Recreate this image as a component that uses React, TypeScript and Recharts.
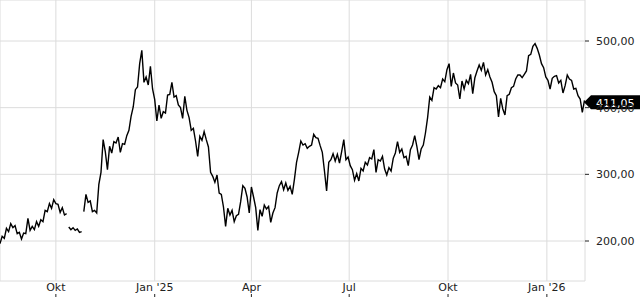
import { LineChart, Line, XAxis, YAxis, CartesianGrid, ReferenceLine } from "recharts"

const DAY = 86400000
const firstDay = Date.UTC(2024, 7, 10)
const stepDays = 2
const lastDay = 544.5

// price readings every 2 days, three pieces that are not joined
const segA = [
  196, 207, 204, 219, 214, 226, 220, 223, 211, 213,
  203, 212, 211, 234, 216, 222, 217, 229, 222, 232,
  229, 246, 244, 256, 249, 262, 256, 255, 243, 250,
  239, 241,
]
const segB = [221, 217, 220, 216, 218, 213, 214]
const segC = [
  244, 270, 258, 260, 244, 246, 242, 285, 303, 352,
  334, 307, 342, 332, 349, 347, 356, 333, 346, 345,
  358, 366, 387, 401, 427, 431, 466, 486, 438, 446,
  434, 462, 428, 412, 380, 404, 384, 394, 392, 419,
  420, 438, 416, 418, 404, 400, 384, 417, 396, 385,
  366, 369, 350, 327, 357, 351, 364, 352, 341, 303,
  297, 288, 299, 272, 270, 251, 222, 249, 239, 246,
  229, 238, 240, 259, 283, 279, 266, 242, 281, 266,
  250, 216, 247, 237, 254, 248, 252, 228, 242, 250,
  272, 283, 289, 277, 287, 276, 282, 270, 292, 318,
  333, 350, 344, 346, 339, 342, 344, 360, 355, 354,
  343, 333, 305, 275, 318, 322, 331, 320, 330, 317,
  334, 352, 322, 326, 313, 307, 291, 301, 290, 309,
  305, 318, 314, 325, 323, 337, 303, 322, 320, 327,
  308, 299, 310, 305, 324, 332, 349, 333, 338, 325,
  327, 313, 337, 344, 358, 342, 322, 338, 344, 362,
  385, 416, 411, 430, 428, 433, 430, 443, 439, 457,
  466, 432, 452, 437, 434, 413, 440, 428, 441, 436,
  450, 421, 445, 455, 464, 456, 468, 449, 457, 446,
  438, 424, 418, 386, 414, 398, 389, 418, 420, 430,
  432, 443, 449, 449, 445, 450, 455, 478, 480, 492,
  496, 489, 479, 466, 460, 446, 441, 428, 444, 447,
  448, 437, 441, 422, 433, 449, 443, 441, 428, 429,
  418, 413, 393, 411.05,
]
const segStarts = [0, 32, 39]

const xTickDates = ["2024-10-01", "2025-01-01", "2025-04-01", "2025-07-01", "2025-10-01", "2026-01-01"]
const xTickLabels = ["Okt", "Jan '25", "Apr", "Jul", "Okt", "Jan '26"]
const yTicks = [200, 300, 400, 500]
const lastPrice = 411.05

const FONT = "DejaVu Sans"

const toRows = (seg: number[], start: number) =>
  seg.map((v, i) => ({ t: firstDay + (start + i) * stepDays * DAY, v }))

const pieces = [segA, segB, segC].map((s, i) => toRows(s, segStarts[i]))
const xTicks = xTickDates.map((d) => Date.parse(d + "T00:00:00Z"))

const fmt = (v: number) => v.toFixed(2).replace(".", ",")

function XTick({ x, y, payload }: any) {
  const label = xTickLabels[xTicks.indexOf(payload.value)]
  return (
    <g>
      <text x={x} y={y + 10} textAnchor="middle" fontSize={11} fontFamily={FONT} fill="#222">
        {label}
      </text>
      <line x1={x} x2={x} y1={y + 13} y2={y + 16} stroke="#222" />
    </g>
  )
}

function YTick({ x, y, payload }: any) {
  return (
    <g>
      <line x1={x} x2={x + 4} y1={y} y2={y} stroke="#222" />
      <text x={x + 11} y={y + 4} fontSize={11} fontFamily={FONT} fill="#222">
        {fmt(payload.value)}
      </text>
    </g>
  )
}

// black price tag with an arrow, drawn over the 400,00 label like the original
function PriceTag(props: any) {
  const { x, y, width } = props.viewBox
  const r = x + width
  return (
    <g>
      <polygon
        points={`${r - 1},${y + 2} ${r + 6},${y - 5} 640,${y - 5} 640,${y + 9} ${r + 6},${y + 9}`}
        fill="#000"
      />
      <text x={r + 11} y={y + 6.5} fontSize={11} fontFamily={FONT} fill="#fff">
        {fmt(lastPrice)}
      </text>
    </g>
  )
}

export default function App() {
  return (
    <div style={{ width: 640, height: 300 }}>
      <style>{"body{margin:0}"}</style>
      <LineChart width={640} height={300} margin={{ top: 0, right: 0, bottom: 0, left: 0 }}>
        <CartesianGrid stroke="#dcdcdc" />
        <XAxis
          dataKey="t"
          type="number"
          domain={[firstDay, firstDay + lastDay * DAY]}
          ticks={xTicks}
          interval={0}
          tick={<XTick />}
          tickLine={false}
          axisLine={false}
          tickSize={0}
          tickMargin={0}
          height={19}
          allowDataOverflow
        />
        <YAxis
          orientation="right"
          width={55}
          domain={[140, 561.5]}
          ticks={yTicks}
          interval={0}
          tick={<YTick />}
          tickLine={false}
          axisLine={false}
          tickSize={0}
          tickMargin={0}
          allowDataOverflow
        />
        {pieces.map((rows, i) => (
          <Line
            key={i}
            data={rows}
            dataKey="v"
            stroke="#000"
            strokeWidth={1.4}
            strokeLinejoin="miter"
            dot={false}
            activeDot={false}
            isAnimationActive={false}
          />
        ))}
        <ReferenceLine y={lastPrice} stroke="none" ifOverflow="visible" label={(p: any) => <PriceTag {...p} />} />
      </LineChart>
    </div>
  )
}
